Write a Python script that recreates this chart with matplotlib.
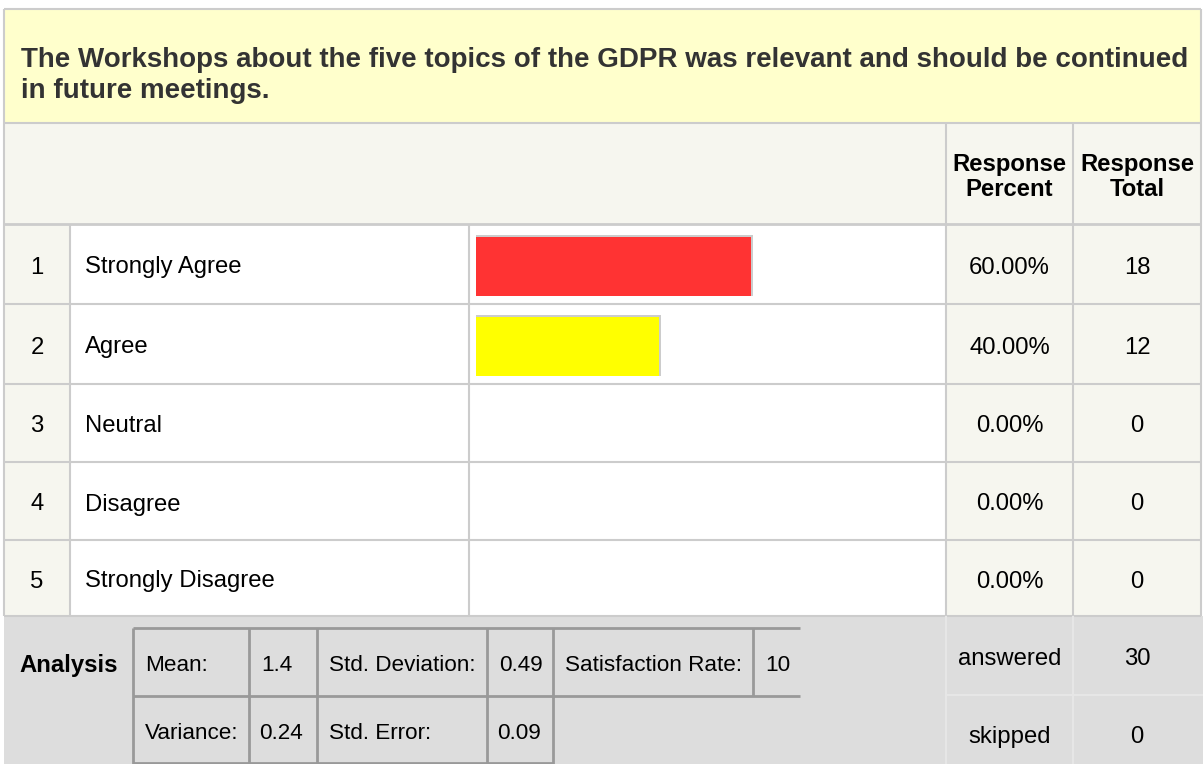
import numpy as np
import matplotlib.pyplot as plt
from matplotlib.patches import Rectangle

plt.rcParams['font.family'] = ['Liberation Sans', 'DejaVu Sans']

# data
question = ["The Workshops about the five topics of the GDPR was relevant and should be continued",
            "in future meetings."]
choices = ['Strongly Agree', 'Agree', 'Neutral', 'Disagree', 'Strongly Disagree']
percent = [60.0, 40.0, 0.0, 0.0, 0.0]
totals = [18, 12, 0, 0, 0]
bar_colors = ['#FF3333', '#FFFF00', '#66CC33', '#3366FF', '#9933CC']
stats_row1 = [('Mean:', '1.4'), ('Std. Deviation:', '0.49'), ('Satisfaction Rate:', '10')]
stats_row2 = [('Variance:', '0.24'), ('Std. Error:', '0.09')]
answered = 30
skipped = 0

# layout in pixels
W, H = 1203, 764
x_left, x_num, x_bar, x_pct, x_tot, x_right = 4, 70, 469, 946, 1073, 1201
y_top, y_title, y_head = 9, 123, 224
rows = np.array([224, 304, 384, 462, 540, 616])
y_bottom = H
stat_cols = [133, 249, 317, 487, 553, 753, 800]
stat_rows = [628, 696, 764]
bar_x0, bar_full = 476, 458

grid = '#CCCCCC'
cream = '#F6F6EF'
body_fs = 17.2
stat_fs = 16.2

fig = plt.figure(figsize=(W / 100, H / 100), dpi=100)
ax = fig.add_axes([0, 0, 1, 1])
ax.set_xlim(0, W)
ax.set_ylim(H, 0)
ax.axis('off')


def box(x0, y0, x1, y1, color):
    ax.add_patch(Rectangle((x0, y0), x1 - x0, y1 - y0, facecolor=color, edgecolor='none', zorder=0))


def line(xs, ys, color=grid, lw=1.5):
    ax.plot(xs, ys, color=color, lw=lw, solid_capstyle='butt', zorder=2)


# backgrounds
box(x_left, y_top, x_right, y_title, '#FFFFCC')
box(x_left, y_title, x_right, y_head, cream)
box(x_left, rows[0], x_num, rows[-1], cream)
box(x_num, rows[0], x_pct, rows[-1], 'white')
box(x_pct, rows[0], x_right, rows[-1], cream)
box(x_left, rows[-1], W, y_bottom, '#DDDDDD')

# title
for i, txt in enumerate(question):
    ax.text(21, 67 + 31 * i, txt, fontsize=20, fontweight='bold', color='#333333',
            va='baseline', ha='left')

# header
for xc, word in [((x_pct + x_tot) / 2, 'Percent'), ((x_tot + x_right) / 2, 'Total')]:
    ax.text(xc, 171, 'Response', fontsize=body_fs, fontweight='bold', ha='center', va='baseline')
    ax.text(xc, 196, word, fontsize=body_fs, fontweight='bold', ha='center', va='baseline')

# outer grid
line([x_left, x_right], [y_top, y_top])
line([x_left, x_left], [y_top, rows[-1]])
line([x_right, x_right], [y_top, rows[-1]])
line([x_left, x_right], [y_title, y_title])
line([x_left, x_right], [y_head, y_head], lw=2)
for xv in [x_pct, x_tot]:
    line([xv, xv], [y_title, rows[-1]])
for xv in [x_num, x_bar]:
    line([xv, xv], [rows[0], rows[-1]])
for yv in rows[1:]:
    line([x_left, x_right], [yv, yv])

# row texts
mids = (rows[:-1] + rows[1:]) / 2
for i, (lab, p, t) in enumerate(zip(choices, percent, totals)):
    yb = mids[i] + 9.5
    ax.text((x_left + x_num) / 2, yb, str(i + 1), fontsize=body_fs, ha='center', va='baseline')
    ax.text(85, yb, lab, fontsize=body_fs, ha='left', va='baseline')
    ax.text((x_pct + x_tot) / 2, yb, f'{p:.2f}%', fontsize=body_fs, ha='center', va='baseline')
    ax.text((x_tot + x_right) / 2, yb, str(t), fontsize=body_fs, ha='center', va='baseline')

# bars
bax = fig.add_axes([bar_x0 / W, (H - rows[-1]) / H, bar_full / W, (rows[-1] - rows[0]) / H])
bax.set_xlim(0, 100)
bax.set_ylim(rows[-1], rows[0])
bax.axis('off')
bax.patch.set_visible(False)
shown = [i for i, p in enumerate(percent) if p > 0]
px = 100 / bar_full
for i in shown:
    bax.barh(mids[i] + 1.5, percent[i] + 2 * px, height=61, color=grid, zorder=1)
    bax.barh(mids[i] + 2.5, percent[i], height=59, color=bar_colors[i], zorder=2)

# analysis section
ay1 = (stat_rows[0] + stat_rows[1]) / 2
ay2 = (stat_rows[1] + stat_rows[2]) / 2
ax.text((x_left + stat_cols[0]) / 2, ay1 + 10, 'Analysis', fontsize=body_fs, fontweight='bold',
        ha='center', va='baseline')
dark = '#999999'
line([stat_cols[0], stat_cols[-1]], [stat_rows[0], stat_rows[0]], dark, 2)
line([stat_cols[0], stat_cols[-1]], [stat_rows[1], stat_rows[1]], dark, 2)
line([stat_cols[0], stat_cols[4]], [stat_rows[2] - 1, stat_rows[2] - 1], dark, 2)
for xv in stat_cols[:5]:
    line([xv, xv], [stat_rows[0], stat_rows[2]], dark, 2)
line([stat_cols[5], stat_cols[5]], [stat_rows[0], stat_rows[1]], dark, 2)

for j, (lab, val) in enumerate(stats_row1):
    ax.text(stat_cols[2 * j] + 12, ay1 + 9, lab, fontsize=stat_fs, va='baseline')
    ax.text(stat_cols[2 * j + 1] + 12, ay1 + 9, val, fontsize=stat_fs, va='baseline')
for j, (lab, val) in enumerate(stats_row2):
    ax.text(stat_cols[2 * j] + 12, ay2 + 9, lab, fontsize=stat_fs, va='baseline')
    ax.text(stat_cols[2 * j + 1] + 10, ay2 + 9, val, fontsize=stat_fs, va='baseline')

# answered / skipped
light = '#E6E6E6'
y_mid = 695
line([x_pct, x_pct], [rows[-1], y_bottom], light)
line([x_tot, x_tot], [rows[-1], y_bottom], light)
line([x_pct, W], [y_mid, y_mid], light)
for yb, lab, val in [(665, 'answered', answered), (743, 'skipped', skipped)]:
    ax.text((x_pct + x_tot) / 2, yb, lab, fontsize=body_fs, ha='center', va='baseline')
    ax.text((x_tot + x_right) / 2, yb, str(val), fontsize=body_fs, ha='center', va='baseline')

fig.savefig('out.png', dpi=100)
